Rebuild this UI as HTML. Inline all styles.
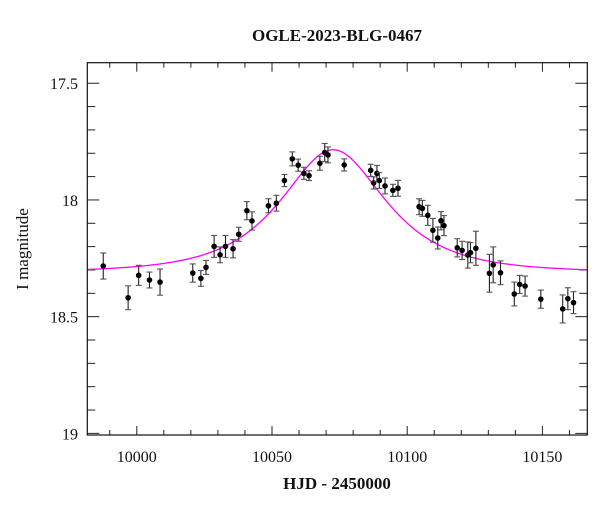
<!DOCTYPE html>
<html><head><meta charset="utf-8"><style>
html,body{margin:0;padding:0;background:#fff;}
svg{display:block;font-family:"Liberation Serif",serif;}
</style></head><body>
<svg id="chart" width="600" height="512" viewBox="0 0 600 512" xmlns="http://www.w3.org/2000/svg">
<rect width="600" height="512" fill="#fff"/>
<text x="337" y="41" text-anchor="middle" font-size="17" font-weight="bold" fill="#111">OGLE-2023-BLG-0467</text>
<text x="337" y="489" text-anchor="middle" font-size="17" font-weight="bold" fill="#111">HJD - 2450000</text>
<text transform="translate(28,249) rotate(-90)" text-anchor="middle" font-size="17" fill="#111">I magnitude</text>
<g id="axes"></g>
<g id="curve"></g>
<g id="points"></g>
<rect x="87.3" y="62.7" width="500" height="372.3" fill="none" stroke="#111" stroke-width="1.2"/>
</svg>
<script>
const hjd = [9987.6,9996.8,10000.7,10004.7,10008.6,10020.7,10023.7,10025.6,10028.6,10030.8,10032.8,10035.6,10037.7,10040.7,10042.6,10048.7,10051.6,10054.6,10057.5,10059.7,10061.8,10063.7,10067.7,10069.5,10070.7,10076.7,10086.5,10087.6,10088.8,10089.7,10091.8,10094.7,10096.6,10104.4,10105.6,10107.6,10109.5,10111.3,10112.5,10113.6,10118.5,10120.3,10122.4,10123.4,10125.4,10130.4,10131.8,10134.5,10139.6,10141.6,10143.6,10149.4,10157.5,10159.4,10161.5];
const mag = [18.283,18.419,18.323,18.343,18.352,18.313,18.336,18.289,18.199,18.235,18.199,18.209,18.147,18.046,18.090,18.025,18.014,17.917,17.824,17.851,17.886,17.896,17.843,17.797,17.807,17.850,17.873,17.927,17.886,17.917,17.940,17.959,17.950,18.029,18.036,18.066,18.130,18.163,18.089,18.110,18.205,18.216,18.236,18.226,18.207,18.314,18.278,18.312,18.403,18.362,18.369,18.425,18.467,18.423,18.440];
const magErr = [0.056,0.051,0.043,0.034,0.056,0.039,0.034,0.030,0.047,0.034,0.047,0.039,0.030,0.039,0.039,0.030,0.034,0.026,0.030,0.026,0.026,0.021,0.030,0.039,0.034,0.026,0.026,0.026,0.034,0.034,0.034,0.026,0.034,0.034,0.034,0.043,0.051,0.047,0.039,0.043,0.039,0.039,0.056,0.043,0.073,0.081,0.077,0.051,0.051,0.039,0.043,0.039,0.060,0.047,0.047];
const xTicks = [10000,10050,10100,10150];
const yTicks = [17.5,18,18.5,19];
const model = {t0:10072.6, u0:0.735, tE:27.6, base:18.31};

const NS="http://www.w3.org/2000/svg";
const X0=87.3,X1=587.3,Y0=62.7,Y1=435;
const xMin=9981.7,xMax=10166.6,yMin=17.412,yMax=19.007;
const sx=v=>X0+(v-xMin)/(xMax-xMin)*(X1-X0);
const sy=v=>Y0+(v-yMin)/(yMax-yMin)*(Y1-Y0);
function mk(tag,attrs,parent){const e=document.createElementNS(NS,tag);for(const k in attrs)e.setAttribute(k,attrs[k]);parent.appendChild(e);return e;}
const axes=document.getElementById('axes');
for(let d=9990;d<=10160;d+=10){
  const major=d%50===0, L=major?9:5, x=sx(d);
  const t=mk('line',{x1:x,x2:x,y1:Y1,y2:Y1-L,stroke:'#222','stroke-width':1},axes);
  
  
  const t2=mk('line',{x1:x,x2:x,y1:Y0,y2:Y0+L,stroke:'#222','stroke-width':1},axes);
  
  
}
xTicks.forEach(v=>{
  const t=mk('text',{x:sx(v),y:462,'text-anchor':'middle','font-size':16,fill:'#111'},axes);
  t.textContent=v;
  
  
});
for(let i=0;i<=15;i++){
  const m=17.5+i*0.1, major=i%5===0, L=major?12:8, y=sy(m);
  const t=mk('line',{x1:X0,x2:X0+L,y1:y,y2:y,stroke:'#222','stroke-width':1},axes);
  
  
  const t2=mk('line',{x1:X1,x2:X1-L,y1:y,y2:y,stroke:'#222','stroke-width':1},axes);
  
  
}
yTicks.forEach(v=>{
  const t=mk('text',{x:78,y:sy(v)+6,'text-anchor':'end','font-size':16,fill:'#111'},axes);
  t.textContent=String(v);
  
  
});
// model curve
let d='';
for(let i=0;i<=400;i++){
  const t=xMin+(xMax-xMin)*i/400;
  const tau=(t-model.t0)/model.tE;
  const u=Math.sqrt(model.u0*model.u0+tau*tau);
  const A=(u*u+2)/(u*Math.sqrt(u*u+4));
  const m=model.base-2.5*Math.log10(A);
  d+=(i?'L':'M')+sx(t).toFixed(2)+','+sy(m).toFixed(2);
}
const cp=mk('path',{d:d,fill:'none',stroke:'#ff00ff','stroke-width':1.3},document.getElementById('curve'));


// points
const pg=document.getElementById('points');
hjd.forEach((t,i)=>{
  const x=sx(t),y=sy(mag[i]),y1=sy(mag[i]-magErr[i]),y2=sy(mag[i]+magErr[i]);
  const g=mk('g',{},pg);
  
  
  mk('line',{x1:x,x2:x,y1:y1,y2:y2,stroke:'#222','stroke-width':1.1},g);
  mk('line',{x1:x-3,x2:x+3,y1:y1,y2:y1,stroke:'#555','stroke-width':1.1},g);
  mk('line',{x1:x-3,x2:x+3,y1:y2,y2:y2,stroke:'#555','stroke-width':1.1},g);
  mk('circle',{cx:x,cy:y,r:2.8,fill:'#000'},g);
});
</script>
</body></html>
